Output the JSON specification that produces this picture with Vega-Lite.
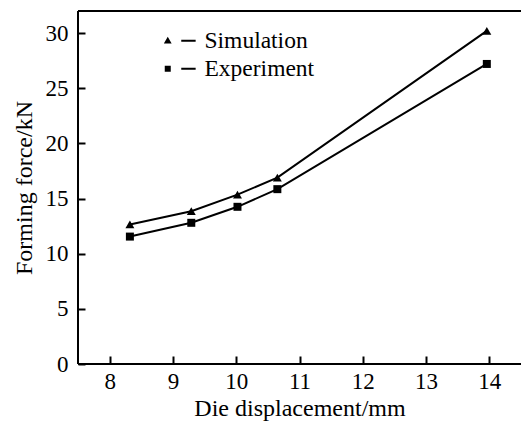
{
  "$schema": "https://vega.github.io/schema/vega-lite/v6.json",
  "width": 443,
  "height": 353,
  "autosize": {"type": "none"},
  "padding": {"left": 78, "top": 11, "right": 0, "bottom": 57},
  "background": "white",
  "view": {"stroke": null},
  "config": {
    "font": "Liberation Serif",
    "view": {"stroke": null},
    "axis": {"grid": false, "ticks": true, "domain": false, "tickColor": "#000000", "tickWidth": 2, "tickOpacity": 1, "labelColor": "black", "titleColor": "black", "labelFont": "Liberation Serif", "titleFont": "Liberation Serif", "labelFontSize": 23, "titleFontSize": 24, "titleFontWeight": "normal", "zindex": 1},
    "legend": {"labelFont": "Liberation Serif"}
  },
  "data": {"values": [
    {"series": "Simulation", "x": 8.32, "y": 12.65},
    {"series": "Simulation", "x": 9.29, "y": 13.85},
    {"series": "Simulation", "x": 10.02, "y": 15.35},
    {"series": "Simulation", "x": 10.65, "y": 16.9},
    {"series": "Simulation", "x": 13.96, "y": 30.2},
    {"series": "Experiment", "x": 8.32, "y": 11.55},
    {"series": "Experiment", "x": 9.29, "y": 12.8},
    {"series": "Experiment", "x": 10.02, "y": 14.25},
    {"series": "Experiment", "x": 10.65, "y": 15.85},
    {"series": "Experiment", "x": 13.96, "y": 27.2}
  ]},
  "encoding": {
    "x": {"field": "x", "type": "quantitative", "scale": {"domain": [7.5, 14.5], "nice": false, "zero": false},
      "axis": {"title": "Die displacement/mm", "values": [8, 9, 10, 11, 12, 13, 14], "offset": -8, "tickSize": 8, "labelPadding": 6, "titleBaseline": "alphabetic", "titleY": 59}},
    "y": {"field": "y", "type": "quantitative", "scale": {"domain": [0, 32], "nice": false},
      "axis": {"title": "Forming force/kN", "values": [0, 5, 10, 15, 20, 25, 30], "offset": -7, "tickSize": 7, "labelPadding": 10, "titleBaseline": "alphabetic", "titleX": -54, "titleAngle": -90}}
  },
  "layer": [
    {"mark": {"type": "rule", "color": "black", "strokeWidth": 1.2},
     "encoding": {"y": {"datum": 32}, "x": {"datum": 7.5}, "x2": {"datum": 14.5}}},
    {"mark": {"type": "rule", "color": "black", "strokeWidth": 1.2},
     "encoding": {"y": {"datum": 0}, "x": {"datum": 7.5}, "x2": {"datum": 14.5}}},
    {"mark": {"type": "rule", "color": "black", "strokeWidth": 1.2},
     "encoding": {"x": {"datum": 7.5}, "y": {"datum": 0}, "y2": {"datum": 32}}},
    {"mark": {"type": "line", "color": "black", "strokeWidth": 2},
     "encoding": {"detail": {"field": "series"}}},
    {"mark": {"type": "point", "filled": true, "color": "black", "opacity": 1},
     "encoding": {
       "shape": {"field": "series", "type": "nominal", "scale": {"domain": ["Simulation", "Experiment"], "range": ["triangle-up", "square"]}, "legend": null},
       "size": {"condition": {"test": "datum.series === 'Simulation'", "value": 80}, "value": 64}
     }},
    {"mark": {"type": "point", "filled": true, "color": "black", "opacity": 1, "size": 0},
     "encoding": {
       "shape": {"field": "series", "type": "nominal", "title": null,
         "scale": {"domain": ["Simulation", "Experiment"], "range": ["M-1.3,0.9L1.3,0.9L0,-1.3Z M4.5,-0.35H9.3V0.35H4.5Z", "M-1,-1H1V1H-1Z M4.5,-0.35H9.3V0.35H4.5Z"]},
         "legend": {"title": null, "orient": "none", "legendX": 78, "legendY": 18, "padding": 0, "symbolSize": 36, "labelOffset": 25, "labelFontSize": 23.5, "labelFont": "Liberation Serif", "labelColor": "black", "rowPadding": 3, "symbolFillColor": "black", "symbolStrokeWidth": 0, "symbolOpacity": 1}}
     }}
  ],
  "resolve": {"scale": {"shape": "independent"}}
}
